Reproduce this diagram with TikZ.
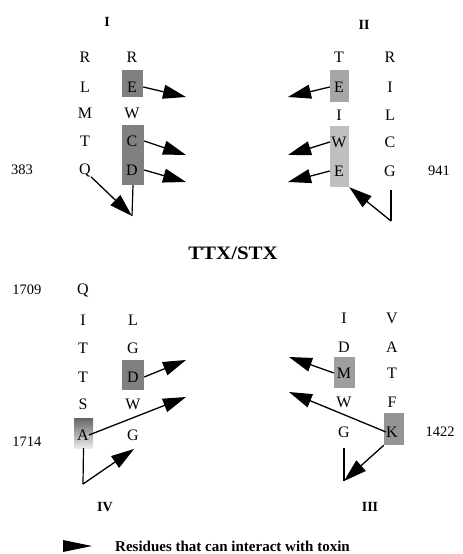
\documentclass[tikz,border=0pt]{standalone}
\usepackage{fontspec}
\setmainfont{Liberation Serif}
\newfontfamily\titlefont[FakeStretch=1.1]{Liberation Serif}
\usetikzlibrary{arrows.meta}
\begin{document}
\begin{tikzpicture}[x=1pt,y=-1pt,
  res/.style={inner sep=0pt,font=\fontsize{16}{16}\selectfont},
  num/.style={inner sep=0pt,font=\fontsize{14.5}{14.5}\selectfont},
  dom/.style={inner sep=0pt,font=\bfseries\fontsize{14}{14}\selectfont},
  hbox/.style={fill=black!50,draw=none,inner sep=0pt},
  abox/.style={top color=black!60,bottom color=black!8,draw=none,inner sep=0pt},
  arr/.style={line width=1.3pt,-{Triangle[length=23pt,width=14pt]}},
  stem/.style={line width=1.2pt}]
\useasboundingbox (0,0) rectangle (463,554);

% ---------------- shaded residue boxes ----------------
\node[hbox,minimum width=21pt,minimum height=27pt] (bxE1) at (132.5,83.5) {};
\node[hbox,minimum width=22pt,minimum height=60pt] (bxCD1) at (133,155) {};
\node[hbox,fill=black!35,minimum width=19pt,minimum height=32pt] (bxE2) at (339.5,86) {};
\node[hbox,fill=black!25,minimum width=19pt,minimum height=61pt] (bxWE2) at (339.5,156.5) {};
\node[hbox,minimum width=22pt,minimum height=30pt] (bxD4) at (133,375) {};
\node[abox,minimum width=19pt,minimum height=30pt] (bxA4) at (83.5,433) {};
\node[hbox,fill=black!38,minimum width=21pt,minimum height=31pt] (bxM3) at (344.5,372.5) {};
\node[hbox,fill=black!42,minimum width=20pt,minimum height=32pt] (bxK3) at (394,429) {};

% ---------------- domain I ----------------
\node[dom] (dI) at (107,22) {I};
\node[res] (R1a) at (85,57) {R};
\node[res] (L1)  at (85,87) {L};
\node[res] (M1)  at (85,113) {M};
\node[res] (T1)  at (85,141) {T};
\node[res] (Q1)  at (85,170) {Q};
\node[res] (R1b) at (132,57) {R};
\node[res] (E1)  at (132,87) {E};
\node[res] (W1)  at (132,113) {W};
\node[res] (C1)  at (132,141) {C};
\node[res] (D1)  at (132,170) {D};
\node[num] (n383) at (22,170) {383};

\coordinate (tE1) at (186,97);
\coordinate (tC1) at (186,155);
\coordinate (tD1) at (186,182);
\coordinate (v1)  at (132,216);
\draw[arr] (bxE1.east |- E1) -- (tE1);
\draw[arr] (bxCD1.east |- C1) -- (tC1);
\draw[arr] (bxCD1.east |- D1) -- (tD1);
\draw[stem] (bxCD1.south) -- (v1);
\draw[arr] (Q1.south east) -- (v1);

% ---------------- domain II ----------------
\node[dom] (dII) at (364,25) {II};
\node[res] (T2)  at (339,57) {T};
\node[res] (E2a) at (339,87) {E};
\node[res] (I2)  at (339,115) {I};
\node[res] (W2)  at (339,142) {W};
\node[res] (E2b) at (339,171) {E};
\node[res] (R2)  at (390,57) {R};
\node[res] (I2b) at (390,87) {I};
\node[res] (L2)  at (390,115) {L};
\node[res] (C2)  at (390,142) {C};
\node[res] (G2)  at (390,171) {G};
\node[num] (n941) at (439,171) {941};

\coordinate (tE2a) at (288,97);
\coordinate (tW2)  at (288,155);
\coordinate (tE2b) at (288,182);
\coordinate (s2)   at (391,190);
\coordinate (v2)   at (391,221);
\draw[arr] (bxE2.west |- E2a) -- (tE2a);
\draw[arr] (bxWE2.west |- W2) -- (tW2);
\draw[arr] (bxWE2.west |- E2b) -- (tE2b);
\draw[stem] (s2) -- (v2);
\draw[arr] (v2) -- (bxWE2.south east);

% ---------------- toxin ----------------
\node[inner sep=0pt,font=\titlefont\bfseries\fontsize{19}{19}\selectfont] (tox) at (233,253) {TTX/STX};

% ---------------- domain IV ----------------
\node[num] (n1709) at (27,290) {1709};
\node[res] (Q4)  at (83,290) {Q};
\node[res] (I4)  at (83,320) {I};
\node[res] (T4a) at (83,348) {T};
\node[res] (T4b) at (83,377) {T};
\node[res] (S4)  at (83,404) {S};
\node[res] (A4)  at (83,435) {A};
\node[res] (L4)  at (133,320) {L};
\node[res] (G4a) at (133,348) {G};
\node[res] (D4)  at (133,377) {D};
\node[res] (W4)  at (133,404) {W};
\node[res] (G4b) at (133,435) {G};
\node[num] (n1714) at (27,442) {1714};
\node[dom] (dIV) at (105,507) {IV};

\coordinate (tD4) at (186,360);
\coordinate (tA4) at (186,397);
\coordinate (v4)  at (83,484);
\coordinate (tV4) at (134,449);
\draw[arr] (bxD4.east |- D4) -- (tD4);
\draw[arr] (A4.east) -- (tA4);
\draw[stem] (bxA4.south) -- (v4);
\draw[arr] (v4) -- (tV4);

% ---------------- domain III ----------------
\node[res] (I3)  at (344,318) {I};
\node[res] (D3)  at (344,347) {D};
\node[res] (M3)  at (344,373) {M};
\node[res] (W3)  at (344,402) {W};
\node[res] (G3)  at (344,432) {G};
\node[res] (V3)  at (392,318) {V};
\node[res] (A3)  at (392,347) {A};
\node[res] (T3)  at (392,373) {T};
\node[res] (F3)  at (392,402) {F};
\node[res] (K3)  at (392,432) {K};
\node[num] (n1422) at (440,432) {1422};
\node[dom] (dIII) at (370,507) {III};

\coordinate (tM3) at (289,357);
\coordinate (tK3) at (289,392);
\coordinate (s3)  at (344,448);
\coordinate (v3)  at (344,481);
\draw[arr] (bxM3.west |- M3) -- (tM3);
\draw[arr] (K3.west) -- (tK3);
\draw[stem] (s3) -- (v3);
\draw[arr] (bxK3.south west) -- (v3);

% ---------------- legend ----------------
\fill (63,540) -- (92,546) -- (63,552) -- cycle;
\node[inner sep=0pt,anchor=west,font=\bfseries\fontsize{15}{15}\selectfont] (leg) at (115,546) {Residues that can interact with toxin};
\end{tikzpicture}
\end{document}
